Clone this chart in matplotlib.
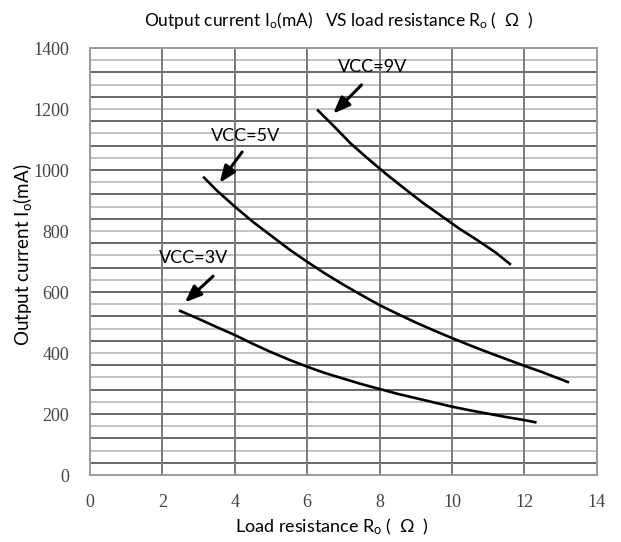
import matplotlib
matplotlib.use("Agg")
import matplotlib.pyplot as plt
import numpy as np

# ---- data ----
r_9v = [6.3, 6.7, 7.2, 7.7, 8.2, 8.7, 9.2, 9.7, 10.2, 10.7, 11.2, 11.6]
i_9v = [1195, 1148, 1087, 1035, 985, 938, 892, 850, 808, 770, 730, 692]

r_5v = [3.15, 3.5, 4.0, 4.5, 5.0, 5.5, 6.0, 6.5, 7.0, 7.5, 8.0, 8.5, 9.0,
        9.5, 10.0, 10.5, 11.0, 11.5, 12.0, 12.5, 13.2]
i_5v = [975, 933, 880, 830, 785, 740, 699, 660, 624, 590, 557, 528, 500,
        474, 449, 425, 402, 380, 358, 337, 305]

r_3v = [2.49, 3.0, 3.5, 4.0, 4.5, 5.0, 5.5, 6.0, 6.5, 7.0, 7.5, 8.0, 8.5,
        9.0, 9.5, 10.0, 10.5, 11.0, 11.5, 12.0, 12.3]
i_3v = [538, 512, 485, 459, 430, 403, 378, 355, 334, 316, 298, 282, 266,
        252, 238, 224, 212, 201, 190, 180, 173]

labels = ["VCC=9V", "VCC=5V", "VCC=3V"]
label_xy = [(7.8, 1338), (4.3, 1111), (2.85, 713)]
arrow_tail = [(7.5, 1279), (4.2, 1059), (3.4, 652)]
arrow_head = [(6.72, 1185), (3.58, 958), (2.62, 566)]

x_ticks = [0, 2, 4, 6, 8, 10, 12, 14]
y_ticks = [0, 200, 400, 600, 800, 1000, 1200, 1400]

title = r"Output current I$_\mathrm{o}$(mA)   VS load resistance R$_\mathrm{o}$$\;$(  $\Omega$  )"
xlabel = r"Load resistance R$_\mathrm{o}$$\;$(  $\Omega$  )"
ylabel = r"Output current I$_\mathrm{o}$(mA)  "

plt.rcParams["mathtext.fontset"] = "custom"
plt.rcParams["mathtext.rm"] = "Lato"
plt.rcParams["mathtext.it"] = "Lato:italic"
plt.rcParams["mathtext.bf"] = "Lato:bold"

sans = "Lato"
serif = ["Liberation Serif", "DejaVu Serif"]

fig = plt.figure(figsize=(6.21, 5.42), dpi=100)
ax = fig.add_axes([0.145, 0.1236, 0.816, 0.7878])
ax.set_xlim(0, 14)
ax.set_ylim(0, 1400)

# grid
for k, yv in enumerate(np.arange(40, 1400, 40)):
    col = "#5a5a5a" if k % 2 == 0 else "#bdbdbd"
    ax.axhline(yv, color=col, lw=1.3, zorder=1)
for xv in x_ticks[1:-1]:
    ax.axvline(xv, color="#7a7a7a", lw=1.4, zorder=1)
for s in ax.spines.values():
    s.set_color("#9a9a9a")
    s.set_linewidth(1.4)

for r, i in [(r_9v, i_9v), (r_5v, i_5v), (r_3v, i_3v)]:
    ax.plot(r, i, color="black", lw=1.9, zorder=3)

for lab, xy, t, h in zip(labels, label_xy, arrow_tail, arrow_head):
    ax.text(xy[0], xy[1], lab, ha="center", va="center", fontsize=13,
            family=sans, color="black", zorder=4)
    ax.annotate("", xy=h, xytext=t,
                arrowprops=dict(arrowstyle="-|>,head_length=1.0,head_width=0.4",
                                color="black", lw=2.2, shrinkA=0, shrinkB=0),
                zorder=4)

ax.set_xticks(x_ticks)
ax.set_yticks(y_ticks)
ax.tick_params(length=0, labelsize=13, labelcolor="#444444")
ax.tick_params(axis="x", pad=14)
ax.tick_params(axis="y", pad=15)
for lbl in ax.get_xticklabels() + ax.get_yticklabels():
    lbl.set_family(serif)

fig.text(0.535, 0.028, xlabel, family=sans, fontsize=13, ha="center", va="center")
fig.text(0.036, 0.535, ylabel, family=sans, fontsize=13.5, ha="center", va="center",
         rotation=90)
fig.text(0.545, 0.963, title, family=sans, fontsize=12.5, ha="center", va="center")

fig.savefig("out.png", dpi=100)
